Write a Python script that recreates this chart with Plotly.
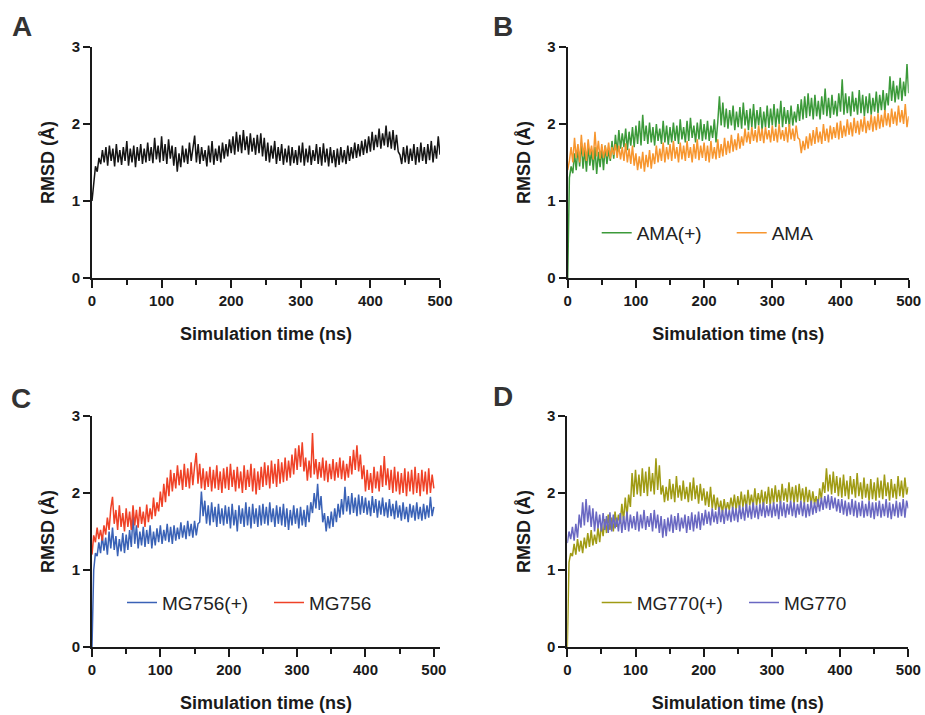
import plotly.graph_objects as go

STEP_NS = 2.5

# ---------------- Panel A ----------------
rmsd_A = [
    1.00, 1.25, 1.45, 1.38, 1.56, 1.48, 1.66, 1.50, 1.70, 1.46, 1.72, 1.52, 1.68, 1.45, 1.74, 1.50, 1.66, 1.47, 1.70, 1.52,
    1.78, 1.46, 1.68, 1.50, 1.72, 1.44, 1.70, 1.52, 1.74, 1.48, 1.68, 1.50, 1.76, 1.52, 1.70, 1.49, 1.82, 1.54, 1.72, 1.50,
    1.84, 1.52, 1.74, 1.48, 1.80, 1.55, 1.72, 1.46, 1.70, 1.38, 1.62, 1.44, 1.72, 1.50, 1.68, 1.48, 1.76, 1.52, 1.70, 1.85,
    1.50, 1.74, 1.48, 1.70, 1.52, 1.66, 1.45, 1.72, 1.50, 1.78, 1.47, 1.68, 1.52, 1.72, 1.50, 1.76, 1.55, 1.74, 1.58, 1.80,
    1.62, 1.84, 1.60, 1.90, 1.64, 1.86, 1.62, 1.92, 1.66, 1.84, 1.60, 1.88, 1.64, 1.82, 1.60, 1.86, 1.62, 1.88, 1.58, 1.82,
    1.52, 1.76, 1.50, 1.72, 1.55, 1.78, 1.48, 1.70, 1.52, 1.74, 1.47, 1.68, 1.50, 1.72, 1.46, 1.70, 1.49, 1.66, 1.47, 1.72,
    1.50, 1.76, 1.46, 1.68, 1.50, 1.72, 1.47, 1.66, 1.52, 1.74, 1.48, 1.70, 1.46, 1.75, 1.50, 1.68, 1.45, 1.70, 1.49, 1.66,
    1.44, 1.68, 1.47, 1.70, 1.50, 1.66, 1.48, 1.72, 1.52, 1.70, 1.55, 1.76, 1.56, 1.74, 1.58, 1.78, 1.60, 1.80, 1.62, 1.84,
    1.64, 1.90, 1.66, 1.86, 1.70, 1.94, 1.68, 1.88, 1.72, 1.98, 1.70, 1.90, 1.68, 1.92, 1.66, 1.86, 1.64, 1.60, 1.48, 1.70,
    1.50, 1.72, 1.48, 1.68, 1.52, 1.74, 1.47, 1.70, 1.50, 1.76, 1.52, 1.70, 1.48, 1.74, 1.53, 1.78, 1.50, 1.72, 1.55, 1.84,
    1.60,
]

# ---------------- Panel B ----------------
rmsd_AMA_plus = [
    0.00, 1.30, 1.45, 1.36, 1.62, 1.40, 1.70, 1.45, 1.76, 1.42, 1.68, 1.38, 1.72, 1.46, 1.66, 1.40, 1.70, 1.35, 1.64, 1.44,
    1.68, 1.40, 1.72, 1.48, 1.66, 1.52, 1.78, 1.55, 1.86, 1.62, 1.92, 1.68, 1.88, 1.70, 1.94, 1.66, 1.90, 1.72, 1.96, 1.70,
    1.98, 1.74, 2.04, 1.72, 2.12, 1.78, 1.98, 1.74, 2.02, 1.76, 1.96, 1.72, 2.00, 1.78, 1.94, 1.74, 2.04, 1.76, 1.98, 1.73,
    1.96, 1.76, 2.02, 1.78, 1.98, 1.74, 2.06, 1.80, 1.96, 1.76, 2.04, 1.78, 2.08, 1.82, 1.98, 1.76, 2.02, 1.80, 2.06, 1.78,
    2.00, 1.80, 2.04, 1.78, 1.98, 1.82, 2.06, 1.76, 2.02, 2.36, 1.98, 2.28, 1.96, 2.20, 1.94, 2.18, 1.98, 2.24, 1.92, 2.16,
    1.96, 2.22, 1.94, 2.28, 1.98, 2.18, 1.92, 2.20, 1.96, 2.26, 1.94, 2.18, 1.98, 2.22, 1.92, 2.16, 1.96, 2.24, 1.95, 2.20,
    1.98, 2.26, 1.96, 2.20, 2.00, 2.30, 1.96, 2.22, 2.00, 2.18, 1.96, 2.24, 1.98, 2.16, 2.02, 2.26, 2.04, 2.32, 2.06, 2.36,
    2.08, 2.40, 2.10, 2.34, 2.06, 2.38, 2.10, 2.30, 2.06, 2.36, 2.12, 2.46, 2.10, 2.34, 2.08, 2.38, 2.12, 2.30, 2.10, 2.40,
    2.16, 2.58, 2.12, 2.40, 2.14, 2.36, 2.10, 2.42, 2.16, 2.34, 2.12, 2.44, 2.14, 2.38, 2.10, 2.36, 2.14, 2.40, 2.12, 2.34,
    2.16, 2.42, 2.14, 2.38, 2.18, 2.44, 2.16, 2.40, 2.24, 2.62, 2.30, 2.56, 2.28, 2.50, 2.32, 2.60, 2.30, 2.55, 2.36, 2.78,
    2.40,
]
rmsd_AMA = [
    1.40, 1.52, 1.70, 1.50, 1.82, 1.56, 1.74, 1.50, 1.86, 1.58, 1.76, 1.52, 1.80, 1.60, 1.72, 1.54, 1.90, 1.58, 1.78, 1.55,
    1.74, 1.56, 1.72, 1.58, 1.76, 1.55, 1.70, 1.60, 1.74, 1.56, 1.72, 1.54, 1.70, 1.52, 1.75, 1.50, 1.68, 1.48, 1.72, 1.46,
    1.62, 1.40, 1.58, 1.42, 1.64, 1.38, 1.60, 1.44, 1.66, 1.42, 1.62, 1.48, 1.72, 1.50, 1.68, 1.52, 1.76, 1.50, 1.70, 1.54,
    1.74, 1.52, 1.78, 1.55, 1.70, 1.50, 1.76, 1.54, 1.72, 1.52, 1.78, 1.56, 1.70, 1.50, 1.74, 1.55, 1.80, 1.53, 1.72, 1.56,
    1.76, 1.52, 1.72, 1.50, 1.78, 1.55, 1.70, 1.54, 1.80, 1.56, 1.74, 1.58, 1.82, 1.60, 1.78, 1.62, 1.86, 1.64, 1.80, 1.66,
    1.88, 1.68, 1.84, 1.72, 1.94, 1.76, 1.90, 1.74, 1.96, 1.78, 1.92, 1.76, 1.98, 1.78, 1.94, 1.75, 1.96, 1.80, 1.92, 1.76,
    1.98, 1.78, 1.94, 1.76, 2.00, 1.80, 1.92, 1.78, 1.96, 1.76, 2.00, 1.80, 1.94, 1.78, 1.98, 1.82, 1.80, 1.62, 1.78, 1.66,
    1.84, 1.68, 1.88, 1.72, 1.92, 1.74, 1.96, 1.76, 1.90, 1.74, 2.00, 1.78, 1.94, 1.76, 1.98, 1.80, 1.96, 1.82, 2.02, 1.80,
    2.04, 1.82, 1.98, 1.84, 2.06, 1.86, 2.02, 1.84, 2.08, 1.88, 2.04, 1.86, 2.06, 1.90, 2.10, 1.88, 2.04, 1.92, 2.12, 1.90,
    2.10, 1.92, 2.14, 1.94, 2.12, 1.96, 2.18, 1.98, 2.14, 1.96, 2.20, 2.00, 2.16, 1.98, 2.24, 2.02, 2.18, 2.00, 2.26, 1.96,
    2.10,
]

# ---------------- Panel C ----------------
rmsd_MG756_plus = [
    0.00, 1.00, 1.22, 1.18, 1.36, 1.22, 1.45, 1.25, 1.42, 1.20, 1.50, 1.28, 1.55, 1.26, 1.44, 1.18, 1.40, 1.24, 1.48, 1.22,
    1.46, 1.26, 1.52, 1.30, 1.72, 1.34, 1.58, 1.28, 1.50, 1.32, 1.56, 1.30, 1.52, 1.34, 1.58, 1.28, 1.50, 1.32, 1.54, 1.36,
    1.58, 1.34, 1.52, 1.38, 1.60, 1.36, 1.56, 1.34, 1.58, 1.38, 1.55, 1.40, 1.62, 1.42, 1.58, 1.40, 1.64, 1.44, 1.60, 1.42,
    1.64, 1.45, 1.60, 1.62, 2.02, 1.70, 1.90, 1.60, 1.84, 1.58, 1.88, 1.62, 1.82, 1.56, 1.86, 1.60, 1.80, 1.58, 1.84, 1.60,
    1.82, 1.54, 1.86, 1.58, 1.78, 1.50, 1.84, 1.60, 1.80, 1.56, 1.88, 1.58, 1.82, 1.54, 1.86, 1.60, 1.80, 1.56, 1.84, 1.58,
    1.86, 1.60, 1.82, 1.58, 1.88, 1.62, 1.80, 1.56, 1.84, 1.60, 1.82, 1.58, 1.86, 1.56, 1.80, 1.52, 1.78, 1.58, 1.84, 1.60,
    1.80, 1.54, 1.82, 1.58, 1.78, 1.56, 1.84, 1.62, 1.88, 1.74, 2.00, 1.80, 2.12, 1.78, 1.96, 1.62, 1.74, 1.50, 1.70, 1.54,
    1.76, 1.56, 1.80, 1.62, 1.86, 1.68, 1.92, 1.72, 2.08, 1.76, 1.96, 1.72, 2.00, 1.74, 1.94, 1.70, 1.98, 1.72, 1.96, 1.74,
    1.94, 1.72, 1.90, 1.70, 1.96, 1.74, 1.92, 1.68, 1.90, 1.72, 1.94, 1.70, 1.88, 1.68, 1.92, 1.70, 1.86, 1.66, 1.90, 1.68,
    1.84, 1.64, 1.88, 1.66, 1.82, 1.62, 1.86, 1.68, 1.84, 1.64, 1.88, 1.66, 1.82, 1.64, 1.86, 1.66, 1.84, 1.68, 1.95, 1.70,
    1.82,
]
rmsd_MG756 = [
    1.20, 1.45, 1.36, 1.55, 1.40, 1.52, 1.38, 1.58, 1.46, 1.68, 1.52, 1.80, 1.95, 1.60, 1.78, 1.52, 1.84, 1.56, 1.74, 1.50,
    1.80, 1.56, 1.76, 1.52, 1.84, 1.58, 1.78, 1.55, 1.82, 1.60, 1.76, 1.56, 1.85, 1.62, 1.80, 1.66, 1.94, 1.70, 1.88, 1.76,
    2.02, 1.82, 2.12, 1.88, 2.20, 1.96, 2.30, 2.02, 2.26, 2.06, 2.36, 2.10, 2.30, 2.04, 2.38, 2.08, 2.32, 2.06, 2.40, 2.10,
    2.34, 2.52, 2.12, 2.38, 2.06, 2.32, 2.04, 2.28, 2.08, 2.34, 2.02, 2.30, 2.06, 2.36, 2.04, 2.28, 2.00, 2.32, 2.06, 2.34,
    2.04, 2.38, 2.08, 2.30, 2.02, 2.34, 2.06, 2.28, 2.00, 2.36, 2.04, 2.30, 2.08, 2.38, 2.02, 2.32, 1.98, 2.28, 2.04, 2.34,
    2.08, 2.40, 2.10, 2.36, 2.06, 2.42, 2.12, 2.38, 2.08, 2.44, 2.12, 2.40, 2.14, 2.46, 2.16, 2.42, 2.20, 2.50, 2.24, 2.58,
    2.30, 2.62, 2.34, 2.66, 2.28, 2.46, 2.16, 2.42, 2.20, 2.78, 2.24, 2.44, 2.18, 2.40, 2.20, 2.46, 2.16, 2.42, 2.14, 2.38,
    2.18, 2.44, 2.16, 2.40, 2.20, 2.46, 2.18, 2.42, 2.16, 2.38, 2.20, 2.48, 2.24, 2.56, 2.30, 2.62, 2.28, 2.50, 2.18, 2.36,
    2.02, 2.30, 2.04, 2.26, 2.00, 2.34, 2.06, 2.28, 2.02, 2.36, 2.08, 2.48, 2.10, 2.32, 2.04, 2.30, 2.00, 2.34, 2.02, 2.28,
    1.98, 2.26, 2.00, 2.32, 1.96, 2.28, 2.02, 2.30, 1.98, 2.34, 2.00, 2.26, 1.96, 2.30, 2.02, 2.28, 1.98, 2.32, 2.00, 2.24,
    2.06,
]

# ---------------- Panel D ----------------
rmsd_MG770_plus = [
    0.00, 1.10, 1.22, 1.18, 1.34, 1.20, 1.40, 1.24, 1.38, 1.22, 1.42, 1.28, 1.48, 1.30, 1.52, 1.32, 1.46, 1.34, 1.55, 1.36,
    1.60, 1.44, 1.66, 1.48, 1.72, 1.52, 1.68, 1.50, 1.76, 1.56, 1.72, 1.60, 1.86, 1.64, 1.94, 1.70, 1.98, 1.82, 2.26, 1.95,
    2.30, 1.98, 2.24, 1.96, 2.32, 2.00, 2.28, 1.96, 2.34, 2.02, 2.26, 1.98, 2.45, 2.04, 2.36, 1.98, 2.10, 1.88, 2.08, 1.90,
    2.18, 1.92, 2.12, 1.88, 2.22, 1.94, 2.10, 1.90, 2.16, 1.92, 2.08, 1.88, 2.14, 1.90, 2.20, 1.92, 2.10, 1.86, 2.12, 1.90,
    2.06, 1.84, 2.02, 1.82, 2.08, 1.80, 1.98, 1.78, 1.94, 1.76, 1.90, 1.74, 1.92, 1.76, 1.88, 1.78, 1.94, 1.80, 1.98, 1.78,
    1.96, 1.80, 2.02, 1.82, 1.98, 1.80, 2.04, 1.84, 1.98, 1.82, 2.06, 1.84, 2.00, 1.86, 2.04, 1.82, 2.02, 1.86, 2.08, 1.84,
    2.06, 1.86, 2.10, 1.88, 2.04, 1.86, 2.12, 1.90, 2.06, 1.88, 2.14, 1.90, 2.08, 1.86, 2.10, 1.88, 2.12, 1.90, 2.06, 1.86,
    2.08, 1.88, 2.04, 1.84, 2.02, 1.86, 1.96, 1.82, 2.06, 1.92, 2.14, 2.00, 2.32, 2.02, 2.24, 1.98, 2.28, 2.00, 2.22, 1.96,
    2.20, 1.94, 2.24, 1.96, 2.16, 1.92, 2.22, 1.98, 2.18, 1.94, 2.26, 1.96, 2.14, 1.92, 2.20, 1.94, 2.12, 1.90, 2.18, 1.92,
    2.14, 1.90, 2.20, 1.94, 2.16, 1.92, 2.24, 1.96, 2.14, 1.90, 2.18, 1.94, 2.12, 1.92, 2.22, 1.96, 2.16, 1.94, 2.20, 1.98,
    2.08,
]
rmsd_MG770 = [
    1.35, 1.50, 1.40, 1.56, 1.38, 1.60, 1.42, 1.72, 1.55, 1.88, 1.58, 1.92, 1.62, 1.84, 1.56, 1.80, 1.50, 1.76, 1.54, 1.72,
    1.50, 1.74, 1.52, 1.70, 1.48, 1.75, 1.50, 1.72, 1.54, 1.68, 1.50, 1.74, 1.48, 1.70, 1.52, 1.76, 1.50, 1.72, 1.54, 1.70,
    1.52, 1.76, 1.50, 1.72, 1.54, 1.78, 1.52, 1.70, 1.56, 1.74, 1.50, 1.78, 1.54, 1.72, 1.48, 1.70, 1.42, 1.66, 1.44, 1.68,
    1.50, 1.72, 1.48, 1.70, 1.52, 1.74, 1.50, 1.68, 1.54, 1.72, 1.48, 1.70, 1.52, 1.75, 1.50, 1.72, 1.54, 1.76, 1.52, 1.74,
    1.58, 1.78, 1.60, 1.76, 1.58, 1.80, 1.62, 1.76, 1.60, 1.82, 1.62, 1.78, 1.60, 1.80, 1.64, 1.78, 1.62, 1.82, 1.64, 1.80,
    1.62, 1.84, 1.66, 1.82, 1.64, 1.86, 1.68, 1.84, 1.66, 1.88, 1.68, 1.84, 1.66, 1.86, 1.70, 1.88, 1.68, 1.84, 1.70, 1.86,
    1.68, 1.88, 1.70, 1.86, 1.66, 1.90, 1.70, 1.88, 1.68, 1.86, 1.72, 1.90, 1.70, 1.88, 1.68, 1.86, 1.72, 1.90, 1.70, 1.88,
    1.68, 1.86, 1.70, 1.90, 1.72, 1.88, 1.74, 1.92, 1.76, 1.94, 1.78, 1.96, 1.80, 1.98, 1.78, 1.96, 1.80, 1.94, 1.76, 1.92,
    1.74, 1.92, 1.72, 1.90, 1.70, 1.88, 1.72, 1.92, 1.70, 1.90, 1.68, 1.88, 1.70, 1.90, 1.68, 1.86, 1.70, 1.90, 1.68, 1.88,
    1.66, 1.88, 1.70, 1.90, 1.68, 1.86, 1.70, 1.92, 1.68, 1.88, 1.66, 1.86, 1.70, 1.90, 1.68, 1.88, 1.70, 1.92, 1.68, 1.90,
    1.80,
]

for arr in (rmsd_A, rmsd_AMA_plus, rmsd_AMA, rmsd_MG756_plus, rmsd_MG756, rmsd_MG770_plus, rmsd_MG770):
    assert len(arr) == 201, len(arr)


def times(values):
    return [i * STEP_NS for i in range(len(values))]


W, H = 925, 715
FONT = "Arial, Liberation Sans, Helvetica, sans-serif"
INK = "#1a1a1a"

fig = go.Figure()

# (xaxis id, yaxis id, x0px, x1px, y_top_px, y_bottom_px, xmax)
panels = {
    "A": ("x", "y", 92, 440, 47, 278, 500),
    "B": ("x2", "y2", 567.7, 908.7, 47, 278, 500),
    "C": ("x3", "y3", 92, 440, 416, 647, 509),
    "D": ("x4", "y4", 567.3, 908.3, 416, 647, 500),
}

series = [
    ("A", None, rmsd_A, "#151515", None),
    ("B", "AMA(+)", rmsd_AMA_plus, "#3c9a3a", "legend"),
    ("B", "AMA", rmsd_AMA, "#f7962f", "legend2"),
    ("C", "MG756(+)", rmsd_MG756_plus, "#3a62b6", "legend3"),
    ("C", "MG756", rmsd_MG756, "#ef4227", "legend4"),
    ("D", "MG770(+)", rmsd_MG770_plus, "#a09b14", "legend5"),
    ("D", "MG770", rmsd_MG770, "#6a68c2", "legend6"),
]

for panel, name, vals, color, leg in series:
    xa, ya = panels[panel][0], panels[panel][1]
    kw = dict(x=times(vals), y=vals, mode="lines", xaxis=xa, yaxis=ya,
              line=dict(color=color, width=1.5), hoverinfo="skip")
    if name is None:
        kw["showlegend"] = False
    else:
        kw["name"] = name
        kw["legend"] = leg
        kw["showlegend"] = True
    fig.add_trace(go.Scatter(**kw))

layout = dict(
    width=W, height=H, autosize=False,
    margin=dict(l=0, r=0, t=0, b=0, pad=0, autoexpand=False),
    paper_bgcolor="white", plot_bgcolor="white",
    font=dict(family=FONT, color=INK),
)

axis_font = dict(family=FONT, size=15, color=INK, weight="bold")
title_font = dict(family=FONT, size=18, color=INK, weight="bold")

for key, (xa, ya, x0, x1, yt, yb, xmax) in panels.items():
    xname = "xaxis" if xa == "x" else "xaxis" + xa[1:]
    yname = "yaxis" if ya == "y" else "yaxis" + ya[1:]
    layout[xname] = dict(
        domain=[x0 / W, x1 / W], anchor=ya, range=[0, xmax],
        showline=True, linecolor=INK, linewidth=2,
        ticks="outside", ticklen=8, tickwidth=2, tickcolor=INK,
        tickvals=[0, 100, 200, 300, 400, 500],
        minor=dict(tickvals=[50, 150, 250, 350, 450], ticks="outside", ticklen=5, tickwidth=2, tickcolor=INK),
        showgrid=False, zeroline=False, tickfont=axis_font,
        title=dict(text="Simulation time (ns)", font=title_font, standoff=19),
        fixedrange=True,
    )
    layout[yname] = dict(
        domain=[1 - yb / H, 1 - yt / H], anchor=xa, range=[0, 3],
        showline=True, linecolor=INK, linewidth=2,
        ticks="outside", ticklen=7, tickwidth=2, tickcolor=INK,
        tickvals=[0, 1, 2, 3], showgrid=False, zeroline=False, tickfont=axis_font,
        title=dict(text="RMSD (Å)", font=title_font, standoff=12),
        fixedrange=True,
    )

# legends: one per entry, placed under each pair of traces
leg_font = dict(family=FONT, size=19, color="#222222")
leg_pos = {
    "legend": (596.7, 233),
    "legend2": (731.7, 233),
    "legend3": (122, 602.7),
    "legend4": (269, 602.7),
    "legend5": (596.7, 602.7),
    "legend6": (744, 602.7),
}
for lname, (px, py) in leg_pos.items():
    layout[lname] = dict(
        x=px / W, y=1 - py / H, xanchor="left", yanchor="middle",
        bgcolor="rgba(0,0,0,0)", borderwidth=0, font=leg_font,
        orientation="h", itemwidth=30, tracegroupgap=0,
    )

fig.update_layout(**layout)

# panel letters
letters = {"A": (22, 27), "B": (503, 27), "C": (21, 398), "D": (503, 396)}
for letter, (px, py) in letters.items():
    fig.add_annotation(
        text=letter, x=px / W, y=1 - py / H, xref="paper", yref="paper",
        showarrow=False, xanchor="center", yanchor="middle",
        font=dict(family=FONT, size=28, color="#333333", weight="bold"),
    )

fig.write_html(
    "out.html",
    config={"displayModeBar": False, "responsive": False},
    post_script="document.body.style.margin='0';document.body.style.overflow='hidden';",
)
